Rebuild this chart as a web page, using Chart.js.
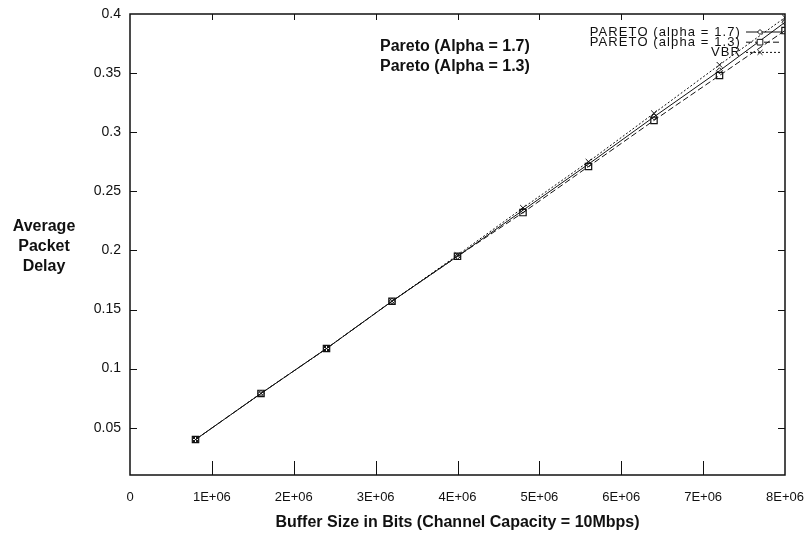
<!DOCTYPE html>
<html>
<head>
<meta charset="utf-8">
<script src="https://cdn.jsdelivr.net/npm/chart.js@4/dist/chart.umd.min.js"></script>
<style>
  html, body { margin: 0; padding: 0; background: #fff; }
  canvas { display: block; }
</style>
</head>
<body>
<canvas id="chart" width="805" height="538"></canvas>
<script>
// buffer sizes (bits) and average packet delay per traffic model
const bufferBits = [800000, 1600000, 2400000, 3200000, 4000000, 4800000, 5600000, 6400000, 7200000, 8000000];
const pareto17   = [0.040, 0.079, 0.117, 0.157, 0.195, 0.234, 0.273, 0.313, 0.352, 0.393];
const pareto13   = [0.040, 0.079, 0.117, 0.157, 0.195, 0.232, 0.271, 0.310, 0.348, 0.386];
const vbr        = [0.040, 0.079, 0.117, 0.157, 0.196, 0.236, 0.275, 0.316, 0.357, 0.397];

const xTicks = [0, 1e6, 2e6, 3e6, 4e6, 5e6, 6e6, 7e6, 8e6];
const yTicks = [0.05, 0.1, 0.15, 0.2, 0.25, 0.3, 0.35, 0.4];

const seriesNames = ["PARETO (alpha = 1.7)", "PARETO (alpha = 1.3)", "VBR"];
const notes = ["Pareto (Alpha = 1.7)", "Pareto (Alpha = 1.3)"];
const yTitle = ["Average", "Packet", "Delay"];

const FONT = "'Liberation Sans', Arial, Helvetica, sans-serif";
const INK = "#111";

const pts = (ys) => bufferBits.map((x, i) => ({ x, y: ys[i] }));

// gnuplot-ish box with ticks pointing inwards on all four sides
const framePlugin = {
  id: "frame",
  beforeDatasetsDraw(chart) {
    const { ctx, chartArea: a, scales: { x, y } } = chart;
    ctx.save();
    ctx.strokeStyle = INK;
    ctx.lineWidth = 1.5;
    ctx.strokeRect(a.left, a.top, a.right - a.left, a.bottom - a.top);
    ctx.lineWidth = 1;
    ctx.beginPath();
    x.ticks.forEach((t) => {
      if (t.value <= 0 || t.value >= 8e6) return;
      const px = Math.round(x.getPixelForValue(t.value)) + 0.5;
      ctx.moveTo(px, a.bottom); ctx.lineTo(px, a.bottom - 14);
      ctx.moveTo(px, a.top);    ctx.lineTo(px, a.top + 6);
    });
    y.ticks.forEach((t) => {
      if (t.value >= 0.4) return;
      const py = Math.round(y.getPixelForValue(t.value)) + 0.5;
      ctx.moveTo(a.left, py);  ctx.lineTo(a.left + 7, py);
      ctx.moveTo(a.right, py); ctx.lineTo(a.right - 7, py);
    });
    ctx.stroke();
    ctx.restore();
  },
};

const textPlugin = {
  id: "texts",
  afterDraw(chart) {
    const { ctx } = chart;
    ctx.save();
    ctx.fillStyle = INK;
    ctx.textBaseline = "middle";

    // y title, stacked horizontally
    ctx.font = `bold 16px ${FONT}`;
    ctx.textAlign = "center";
    yTitle.forEach((s, i) => ctx.fillText(s, 44, 227 + i * 20));

    // bold notes near the top
    ctx.textAlign = "left";
    notes.forEach((s, i) => ctx.fillText(s, 380, 47 + i * 20));

    // key at top right: label, then line sample with marker
    ctx.font = `13px ${FONT}`;
    ctx.letterSpacing = "1.1px";
    ctx.textAlign = "right";
    chart.data.datasets.forEach((ds, i) => {
      const yy = 32 + i * 10.2;
      ctx.fillStyle = INK;
      ctx.fillText(seriesNames[i], 741, yy);
      ctx.strokeStyle = INK;
      ctx.lineWidth = 1;
      ctx.setLineDash(ds.borderDash || []);
      ctx.beginPath();
      ctx.moveTo(746, yy); ctx.lineTo(782, yy);
      ctx.stroke();
      ctx.setLineDash([]);
      ctx.fillStyle = "#fff";
      Chart.helpers.drawPoint(ctx, {
        pointStyle: ds.pointStyle, radius: ds.pointRadius - 0.5, borderWidth: 1,
      }, 760, yy);
    });
    ctx.restore();
  },
};

new Chart(document.getElementById("chart"), {
  type: "line",
  data: {
    datasets: [
      {
        label: seriesNames[0], data: pts(pareto17),
        borderColor: INK, borderWidth: 1, borderDash: [],
        pointStyle: "rectRot", pointRadius: 3, pointBorderColor: INK,
        pointBackgroundColor: "rgba(0,0,0,0)", pointBorderWidth: 1,
      },
      {
        label: seriesNames[1], data: pts(pareto13),
        borderColor: INK, borderWidth: 1, borderDash: [6, 3],
        pointStyle: "rect", pointRadius: 4.5, pointBorderColor: INK,
        pointBackgroundColor: "rgba(0,0,0,0)", pointBorderWidth: 1.2,
      },
      {
        label: seriesNames[2], data: pts(vbr),
        borderColor: INK, borderWidth: 1, borderDash: [2, 2],
        pointStyle: "crossRot", pointRadius: 4, pointBorderColor: INK,
        pointBorderWidth: 1,
      },
    ],
  },
  options: {
    responsive: false,
    animation: false,
    devicePixelRatio: 1,
    layout: { padding: { top: 14, right: 20, bottom: 0, left: 0 } },
    plugins: { legend: { display: false }, tooltip: { enabled: false } },
    elements: { line: { tension: 0 } },
    scales: {
      x: {
        type: "linear", min: 0, max: 8e6,
        grid: { display: false, drawTicks: false },
        border: { display: false },
        afterBuildTicks: (s) => { s.ticks = xTicks.map((v) => ({ value: v })); },
        afterFit: (s) => { s.height = 63; s.paddingLeft = 0; s.paddingRight = 0; },
        ticks: {
          color: INK, padding: 15, maxRotation: 0, autoSkip: false,
          font: { family: FONT, size: 13 },
          callback: (v) => (v === 0 ? "0" : `${v / 1e6}E+06`),
        },
        title: {
          display: true, text: "Buffer Size in Bits (Channel Capacity = 10Mbps)",
          color: INK, font: { family: FONT, size: 16, weight: "bold" },
          padding: { top: 4, bottom: 6 },
        },
      },
      y: {
        type: "linear", min: 0.01, max: 0.4,
        grid: { display: false, drawTicks: false },
        border: { display: false },
        afterBuildTicks: (s) => { s.ticks = yTicks.map((v) => ({ value: v })); },
        afterFit: (s) => { s.width = 130; s.paddingTop = 0; s.paddingBottom = 0; },
        ticks: {
          color: INK, padding: 9,
          font: { family: FONT, size: 14 },
          callback: (v) => String(+v.toFixed(2)),
        },
      },
    },
  },
  plugins: [framePlugin, textPlugin],
});
</script>
</body>
</html>
